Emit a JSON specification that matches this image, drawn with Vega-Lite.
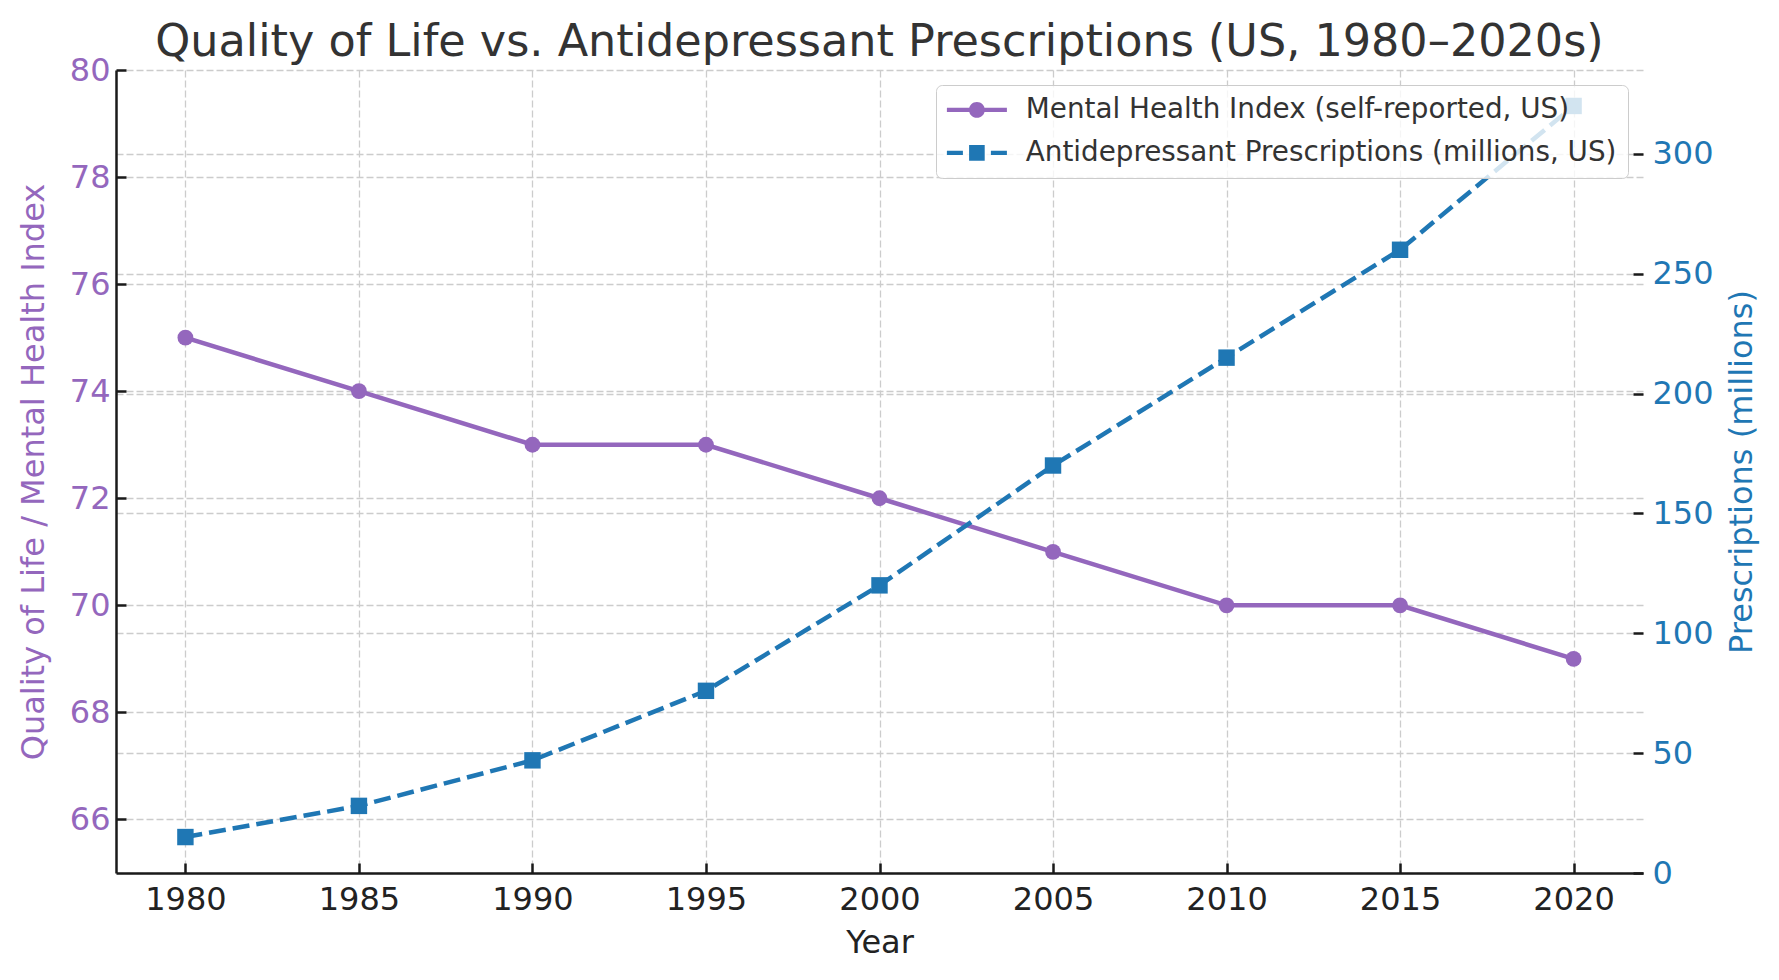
{
  "$schema": "https://vega.github.io/schema/vega-lite/v6.json",
  "width": 1527,
  "height": 803,
  "autosize": {"type": "none"},
  "padding": {"left": 116, "top": 70, "right": 136, "bottom": 107},
  "background": "white",
  "title": {
    "text": "Quality of Life vs. Antidepressant Prescriptions (US, 1980–2020s)",
    "font": "DejaVu Sans",
    "fontSize": 44.5,
    "fontWeight": "normal",
    "color": "#333333",
    "anchor": "middle",
    "frame": "group",
    "baseline": "alphabetic",
    "offset": -46
  },
  "data": {
    "values": [
      {"year": 1980, "mhi": 75, "rx": 15},
      {"year": 1985, "mhi": 74, "rx": 28},
      {"year": 1990, "mhi": 73, "rx": 47},
      {"year": 1995, "mhi": 73, "rx": 76},
      {"year": 2000, "mhi": 72, "rx": 120},
      {"year": 2005, "mhi": 71, "rx": 170},
      {"year": 2010, "mhi": 70, "rx": 215},
      {"year": 2015, "mhi": 70, "rx": 260},
      {"year": 2020, "mhi": 69, "rx": 320}
    ]
  },
  "encoding": {
    "x": {
      "field": "year",
      "type": "quantitative",
      "scale": {"domain": [1978, 2022], "nice": false, "zero": false},
      "axis": {
        "title": "Year",
        "values": [1980, 1985, 1990, 1995, 2000, 2005, 2010, 2015, 2020],
        "format": "d",
        "labelColor": "#222222",
        "titleColor": "#222222",
        "labelPadding": 21,
        "titlePadding": 12,
        "grid": true
      }
    }
  },
  "layer": [
    {
      "encoding": {
        "y": {
          "field": "mhi",
          "type": "quantitative",
          "scale": {"domain": [65, 80], "nice": false, "zero": false},
          "axis": {
            "orient": "left",
            "title": "Quality of Life / Mental Health Index",
            "values": [66, 68, 70, 72, 74, 76, 78, 80],
            "labelColor": "#9467bd",
            "titleColor": "#9467bd",
            "labelPadding": 16,
            "titlePadding": 19,
            "grid": true
          }
        },
        "color": {
          "datum": "Mental Health Index (self-reported, US)",
          "type": "nominal",
          "scale": {
            "domain": ["Mental Health Index (self-reported, US)", "Antidepressant Prescriptions (millions, US)"],
            "range": ["#9467bd", "#1f77b4"]
          },
          "legend": {
            "title": null,
            "orient": "top-right",
            "offset": 15,
            "fillColor": "rgba(255,255,255,0.8)",
            "strokeColor": "#cccccc",
            "cornerRadius": 6,
            "padding": 11,
            "labelFont": "DejaVu Sans",
            "labelFontSize": 27.8,
            "labelColor": "#333333",
            "labelLimit": 2000,
            "labelOffset": 51,
            "rowPadding": 14,
            "symbolSize": 484,
            "symbolStrokeWidth": 0,
            "encode": {
              "symbols": {
                "update": {
                  "shape": {"signal": "datum.value === 'Mental Health Index (self-reported, US)' ? 'M-1.273,-0.2H4.182V0.2H-1.273Z M1.455,-0.72A0.72,0.72 0 1,1 1.455,0.72A0.72,0.72 0 1,1 1.455,-0.72Z' : 'M-1.273,-0.2H0.182V0.2H-1.273Z M0.745,-0.71H2.164V0.71H0.745Z M2.727,-0.2H4.182V0.2H2.727Z'"},
                  "fill": {"signal": "datum.value === 'Mental Health Index (self-reported, US)' ? '#9467bd' : '#1f77b4'"},
                  "stroke": {"value": "transparent"},
                  "strokeWidth": {"value": 0},
                  "opacity": {"value": 1},
                  "fillOpacity": {"value": 1}
                }
              }
            }
          }
        }
      },
      "layer": [
        {"mark": {"type": "line", "strokeWidth": 4.5}},
        {"mark": {"type": "point", "shape": "circle", "filled": true, "size": 250, "opacity": 1}}
      ]
    },
    {
      "encoding": {
        "y": {
          "field": "rx",
          "type": "quantitative",
          "scale": {"domain": [0, 335], "nice": false, "zero": true},
          "axis": {
            "orient": "right",
            "title": "Prescriptions (millions)",
            "values": [0, 50, 100, 150, 200, 250, 300],
            "labelColor": "#1f77b4",
            "titleColor": "#1f77b4",
            "labelPadding": 19,
            "titlePadding": 13,
            "titleAngle": 270,
            "titleBaseline": "top",
            "domain": false,
            "grid": true
          }
        },
        "color": {"datum": "Antidepressant Prescriptions (millions, US)", "type": "nominal"}
      },
      "layer": [
        {"mark": {"type": "line", "strokeWidth": 4.5, "strokeDash": [17, 7]}},
        {"mark": {"type": "point", "shape": "square", "filled": true, "size": 270, "opacity": 1}}
      ]
    }
  ],
  "resolve": {"scale": {"y": "independent"}},
  "config": {
    "view": {"stroke": null},
    "axis": {
      "labelFont": "DejaVu Sans",
      "titleFont": "DejaVu Sans",
      "labelFontSize": 32,
      "titleFontSize": 32,
      "titleFontWeight": "normal",
      "domainColor": "#1a1a1a",
      "domainWidth": 2.5,
      "tickColor": "#1a1a1a",
      "tickWidth": 2.5,
      "tickSize": -10,
      "gridColor": "#cccccc",
      "gridDash": [7, 3],
      "gridWidth": 1.3,
      "labelFlush": false,
      "labelOverlap": false
    }
  }
}
